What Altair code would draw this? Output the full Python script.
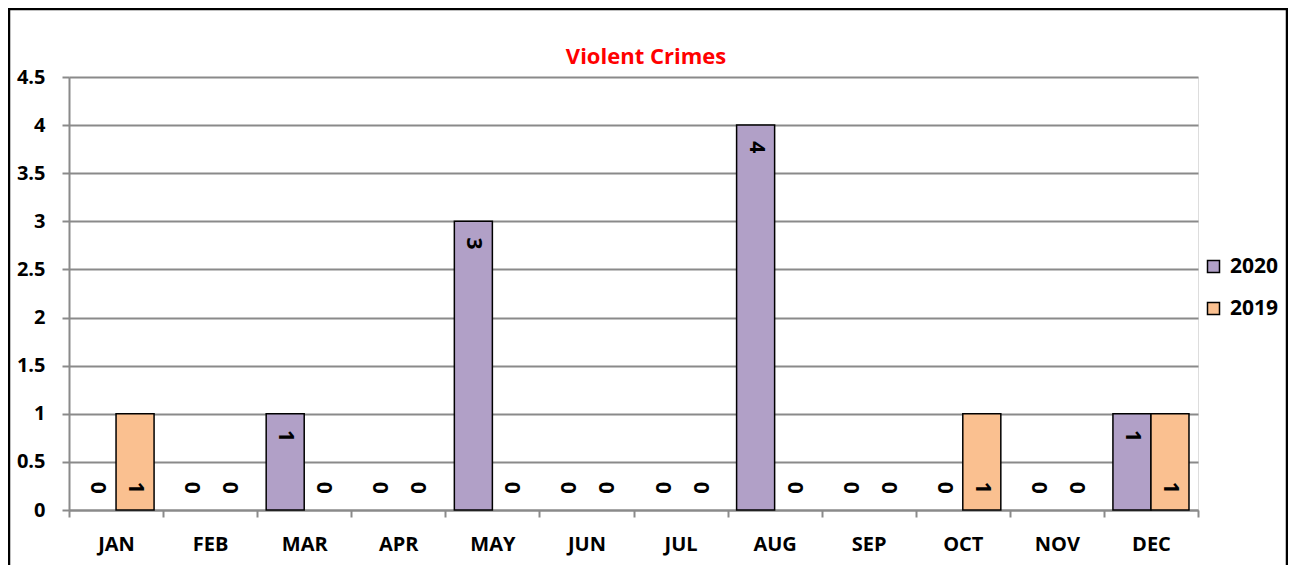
import altair as alt
import pandas as pd

months = ["JAN", "FEB", "MAR", "APR", "MAY", "JUN", "JUL", "AUG", "SEP", "OCT", "NOV", "DEC"]
crimes_2020 = [0, 0, 1, 0, 3, 0, 0, 4, 0, 0, 0, 1]
crimes_2019 = [1, 0, 0, 0, 0, 0, 0, 0, 0, 1, 0, 1]
series = ["2020", "2019"]
colors = ["#B1A0C7", "#FAC090"]
y_ticks = [0, 0.5, 1, 1.5, 2, 2.5, 3, 3.5, 4, 4.5]
title_text = "Violent Crimes"

rows = []
for m, a, b in zip(months, crimes_2020, crimes_2019):
    rows.append({"month": m, "series": "2020", "value": a})
    rows.append({"month": m, "series": "2019", "value": b})
df = pd.DataFrame(rows)

FONT = "Open Sans"
GRAY = "#8a8a8a"

x_enc = alt.X(
    "month:N", sort=months,
    scale=alt.Scale(paddingInner=0, paddingOuter=0),
    axis=alt.Axis(title=None, tickBand="extent", labelAngle=0, labelFont=FONT,
                  labelFontWeight="bold", labelFontSize=20, labelColor="black",
                  labelPadding=17, domainColor=GRAY, domainWidth=2, tickColor=GRAY,
                  tickWidth=2, tickSize=7, grid=False),
)
xoff_enc = alt.XOffset("series:N", sort=series,
                       scale=alt.Scale(domain=series, paddingOuter=0.237, paddingInner=0))
y_scale = alt.Scale(domain=[0, 4.5], nice=False)
y_axis = alt.Axis(title=None, values=y_ticks, format="~g", grid=True, gridColor=GRAY,
                  gridWidth=2, domainColor=GRAY, domainWidth=2, tickColor=GRAY, tickWidth=2,
                  tickSize=7, labelFont=FONT, labelFontWeight="bold", labelFontSize=20,
                  labelColor="black", labelPadding=17)

bars = alt.Chart(df).transform_filter("datum.value > 0").mark_bar(
    stroke="black", strokeWidth=1.5
).encode(
    x=x_enc,
    xOffset=xoff_enc,
    y=alt.Y("value:Q", scale=y_scale, axis=y_axis),
    color=alt.Color("series:N", sort=series,
                    scale=alt.Scale(domain=series, range=colors),
                    legend=alt.Legend(title=None, orient="none", legendX=1134, legendY=179,
                                      symbolType="square", symbolSize=144,
                                      symbolStrokeColor="black", symbolStrokeWidth=1.5,
                                      symbolOpacity=1,
                                      labelFont=FONT, labelFontWeight="bold", labelFontSize=21,
                                      labelColor="black", labelOffset=6, rowPadding=20,
                                      padding=0)),
)

labels = alt.Chart(df).transform_calculate(
    pos="datum.series == '2020' && datum.value > 0 ? datum.value - 0.23 : 0.23"
).mark_text(angle=90, align="center", baseline="middle", font=FONT, fontWeight="bold",
            fontSize=21, color="black").encode(
    x=x_enc,
    xOffset=xoff_enc,
    y=alt.Y("pos:Q", scale=y_scale, axis=y_axis),
    text=alt.Text("value:Q"),
)

dummy = pd.DataFrame({"t": [title_text]})
frame = alt.Chart(dummy).mark_rect(filled=False, stroke="black", strokeWidth=2.5).encode(
    x=alt.value(-60), x2=alt.value(1218), y=alt.value(-68), y2=alt.value(520)
)
title = alt.Chart(dummy).mark_text(align="center", baseline="middle", font=FONT,
                                   fontWeight="bold", fontSize=22, color="#FF0000").encode(
    x=alt.value(577), y=alt.value(-20), text="t:N"
)

chart = alt.layer(frame, bars, labels, title).properties(
    width=1129, height=433,
    autosize=alt.AutoSizeParams(type="none"),
    padding={"left": 61, "top": 69, "right": 90, "bottom": 55},
).configure_view(strokeWidth=0).configure(background="white")

chart.save("out.html", embed_options={"renderer": "svg", "actions": False})
